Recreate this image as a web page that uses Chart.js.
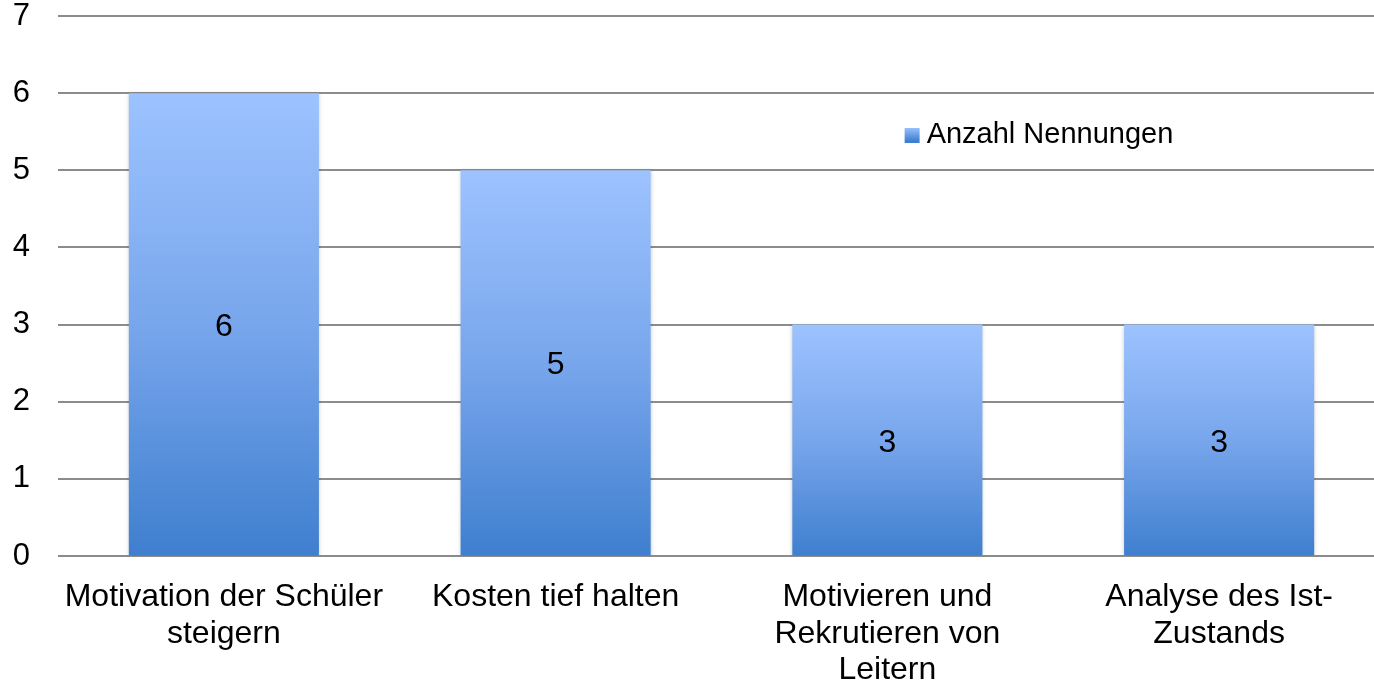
<!DOCTYPE html>
<html>
<head>
<meta charset="utf-8">
<script src="https://cdn.jsdelivr.net/npm/chart.js@4/dist/chart.umd.min.js"></script>
<style>
  html, body { margin: 0; background: #fff; overflow: hidden; }
</style>
</head>
<body>
<!-- etwas breiter als das Fenster: der Plotbereich läuft rechts aus dem Bild -->
<canvas id="myChart" width="1385" height="682"></canvas>
<script>
  const categories = [
    ['Motivation der Schüler', 'steigern'],
    'Kosten tief halten',
    ['Motivieren und', 'Rekrutieren von', 'Leitern'],
    ['Analyse des Ist-', 'Zustands']
  ];
  const seriesName = 'Anzahl Nennungen';
  const values = [6, 5, 3, 3];
  const yTicks = [0, 1, 2, 3, 4, 5, 6, 7];

  const FONT = '"Liberation Sans", Arial, sans-serif';

  function barGradient(context) {
    const chart = context.chart;
    const y = chart.scales.y;
    if (!chart.chartArea || !y || context.type !== 'data') return '#6fa0ea';
    const top = y.getPixelForValue(context.raw);
    const bottom = y.getPixelForValue(0);
    const g = chart.ctx.createLinearGradient(0, top, 0, bottom);
    g.addColorStop(0, '#9dc3ff');
    g.addColorStop(0.5, '#78a6ec');
    g.addColorStop(1, '#3f7fcf');
    return g;
  }

  // leichter Schatten hinter den Balken
  const shadow = {
    id: 'shadow',
    beforeDatasetDraw(chart) {
      const ctx = chart.ctx;
      ctx.save();
      ctx.shadowColor = 'rgba(0,0,0,0.22)';
      ctx.shadowBlur = 4;
      ctx.shadowOffsetX = 0;
      ctx.shadowOffsetY = 1;
    },
    afterDatasetDraw(chart) {
      chart.ctx.restore();
    }
  };

  // Werte mitten in die Balken schreiben + Legende im Plotbereich
  const extras = {
    id: 'extras',
    afterDatasetsDraw(chart) {
      const ctx = chart.ctx;
      const meta = chart.getDatasetMeta(0);
      ctx.save();
      ctx.font = '32px ' + FONT;
      ctx.fillStyle = '#000';
      ctx.textAlign = 'center';
      ctx.textBaseline = 'middle';
      meta.data.forEach((bar, i) => {
        ctx.fillText(String(values[i]), bar.x, (bar.y + bar.base) / 2 + 3);
      });

      const area = chart.chartArea;
      const lx = area.left + (area.right - area.left) * 0.638;
      const ly = chart.scales.y.getPixelForValue(5.47);
      const g = ctx.createLinearGradient(0, ly - 7, 0, ly + 7);
      g.addColorStop(0, '#9dc3ff');
      g.addColorStop(1, '#3f7fcf');
      ctx.fillStyle = g;
      ctx.fillRect(lx, ly - 6, 15, 15);
      ctx.fillStyle = '#000';
      ctx.textAlign = 'left';
      ctx.font = '29px ' + FONT;
      ctx.fillText(seriesName, lx + 22, ly + 1);
      ctx.restore();
    }
  };

  const ctx = document.getElementById('myChart');

  new Chart(ctx, {
    type: 'bar',
    data: {
      labels: categories,
      datasets: [{
        label: seriesName,
        data: values,
        backgroundColor: barGradient,
        borderWidth: 0,
        barPercentage: 0.573,
        categoryPercentage: 1
      }]
    },
    plugins: [shadow, extras],
    options: {
      responsive: false,
      animation: false,
      layout: { padding: { top: 16, right: 0, left: 0, bottom: 0 } },
      plugins: {
        legend: { display: false },
        tooltip: { enabled: false }
      },
      scales: {
        x: {
          grid: { display: false },
          border: { display: false },
          afterFit(scale) {
            scale.height = 126;
            scale.paddingLeft = 0;
            scale.paddingRight = 0;
          },
          ticks: {
            color: '#000',
            font: { family: FONT, size: 32, lineHeight: 1.14 },
            maxRotation: 0,
            autoSkip: false,
            padding: 15
          }
        },
        y: {
          min: 0,
          max: 7,
          afterBuildTicks(axis) {
            axis.ticks = yTicks.map(v => ({ value: v }));
          },
          afterFit(scale) {
            scale.width = 58;
            scale.paddingTop = 0;
            scale.paddingBottom = 0;
          },
          grid: {
            color: '#8c8c8c',
            lineWidth: 2,
            drawTicks: false
          },
          border: { display: false },
          ticks: {
            color: '#000',
            font: { family: FONT, size: 31 },
            padding: 28
          }
        }
      }
    }
  });
</script>
</body>
</html>
